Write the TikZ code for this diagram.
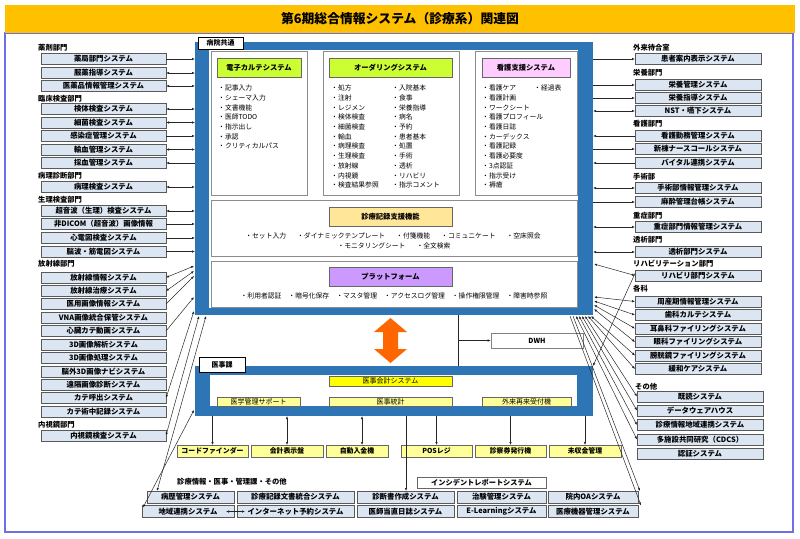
\documentclass[tikz,border=0pt]{standalone}
\usepackage{fontspec}
\setmainfont{Noto Sans CJK JP}
\usetikzlibrary{arrows.meta,calc}
\definecolor{titlebar}{RGB}{255,192,0}
\definecolor{outerc}{RGB}{110,110,230}
\definecolor{fblue}{RGB}{46,117,182}
\definecolor{sysfill}{RGB}{220,230,242}
\definecolor{limeh}{RGB}{204,255,51}
\definecolor{pinkh}{RGB}{255,204,255}
\definecolor{orangeh}{RGB}{255,230,153}
\definecolor{purpleh}{RGB}{204,153,255}
\definecolor{yel}{RGB}{255,255,0}
\definecolor{lyel}{RGB}{255,255,153}
\definecolor{arrorange}{RGB}{255,102,0}
\begin{document}
\begin{tikzpicture}[x=1pt,y=-1pt,>={Latex[length=3pt,width=2.4pt]},
 sys/.style={draw=black!65,fill=sysfill,line width=0.6pt,minimum height=11pt,inner sep=0pt,outer sep=0pt,font=\bfseries\fontsize{7.4}{8}\selectfont},
 lsys/.style={sys,minimum width=125pt},
 rsys/.style={sys,minimum width=126pt},
 bsys/.style={sys,minimum height=12pt},
 lab/.style={font=\bfseries\fontsize{7.3}{8}\selectfont,anchor=west,inner sep=0pt},
 bul/.style={font=\fontsize{6.8}{7}\selectfont,anchor=west,inner sep=0pt},
 pan/.style={draw=black!45,fill=white,line width=0.8pt,anchor=north west,inner sep=0pt,outer sep=0pt},
 hdr/.style={draw=black!60,line width=0.6pt,minimum height=19pt,inner sep=0pt,font=\bfseries\fontsize{7.3}{8}\selectfont},
 mhdr/.style={draw=black!60,line width=0.5pt,inner sep=0pt,font=\fontsize{7}{8}\selectfont},
 dev/.style={draw=black!60,fill=lyel,line width=0.6pt,minimum height=12pt,inner sep=0pt,outer sep=0pt,font=\bfseries\fontsize{6.9}{8}\selectfont},
 frame/.style={fill=fblue,anchor=north west,inner sep=0pt,outer sep=0pt},
 tab/.style={draw=black,fill=white,line width=0.6pt,inner sep=0pt,font=\bfseries\fontsize{7}{8}\selectfont},
 con/.style={line width=0.5pt,black!85}]
\useasboundingbox (0,0) rectangle (800,538);
% title and outer frame
\draw[outerc,line width=1.2pt] (5,33) rectangle (793,532);
\node[fill=titlebar,minimum width=790pt,minimum height=28pt,inner sep=0pt,anchor=north west] (title) at (5,5) {};
\node[font=\bfseries\fontsize{12.8}{14}\selectfont] (titletext) at (400,19) {第6期総合情報システム（診療系）関連図};

% main frame 病院共通
\node[frame,minimum width=398pt,minimum height=273pt] (hosp) at (195,42) {};
\fill[white] (209,50) rectangle (578,308);
\node[tab,minimum width=45pt,minimum height=12pt] (hosptab) at (220.5,43) {病院共通};
\node[pan,minimum width=96pt,minimum height=144pt] (p1) at (211,51) {};
\node[pan,minimum width=136pt,minimum height=144pt] (p2) at (323,51) {};
\node[pan,minimum width=102pt,minimum height=144pt] (p3) at (475,51) {};
\node[pan,minimum width=366pt,minimum height=56pt] (p4) at (211,200) {};
\node[pan,minimum width=366pt,minimum height=46pt] (p5) at (211,261) {};
\node[hdr,fill=limeh,minimum width=84pt] (h1) at (259,67.5) {電子カルテシステム};
\node[hdr,fill=limeh,minimum width=123pt] (h2) at (390.5,67.5) {オーダリングシステム};
\node[hdr,fill=pinkh,minimum width=88pt] (h3) at (526,67.5) {看護支援システム};
\node[hdr,fill=orangeh,minimum width=123pt] (h4) at (390.5,216.5) {診療記録支援機能};
\node[hdr,fill=purpleh,minimum width=123pt] (h5) at (390.5,276.5) {プラットフォーム};
\foreach [count=\i] \t in {記事入力,シェーマ入力,文書機能,医師TODO,指示出し,承認,クリティカルパス}
  \node[bul] (ea\i) at (218,{88+9.72*(\i-1)}) {・\t};
\foreach [count=\i] \t in {処方,注射,レジメン,検体検査,細菌検査,輸血,病理検査,生理検査,放射線,内視鏡,検査結果参照}
  \node[bul] (oa\i) at (331,{88+9.72*(\i-1)}) {・\t};
\foreach [count=\i] \t in {入院基本,食事,栄養指導,病名,予約,患者基本,処置,手術,透析,リハビリ,指示コメント}
  \node[bul] (ob\i) at (392,{88+9.72*(\i-1)}) {・\t};
\foreach [count=\i] \t in {看護ケア,看護計画,ワークシート,看護プロフィール,看護日誌,カーデックス,看護記録,看護必要度,3点認証,指示受け,褥瘡}
  \node[bul] (na\i) at (482,{88+9.72*(\i-1)}) {・\t};
\node[bul] (nb1) at (534,88) {・経過表};
\node[font=\fontsize{6.8}{7}\selectfont,inner sep=0pt] (s1) at (393,236) {・セット入力\hspace{11pt}・ダイナミックテンプレート\hspace{11pt}・付箋機能\hspace{11pt}・コミュニケート\hspace{11pt}・空床照会};
\node[font=\fontsize{6.8}{7}\selectfont,inner sep=0pt] (s2) at (394,246) {・モニタリングシート\hspace{11pt}・全文検索};
\node[font=\fontsize{6.8}{7}\selectfont,inner sep=0pt] (s3) at (394,296) {・利用者認証\hspace{7pt}・暗号化保存\hspace{7pt}・マスタ管理\hspace{7pt}・アクセスログ管理\hspace{7pt}・操作権限管理\hspace{7pt}・障害時参照};

% orange double arrow
\fill[arrorange] (390.5,318) -- (407,332) -- (398,332) -- (398,349) -- (407,349) -- (390.5,363) -- (374,349) -- (383,349) -- (383,332) -- (374,332) -- cycle;

% DWH
\node[draw=black!50,fill=white,line width=0.6pt,minimum width=92pt,minimum height=15pt,inner sep=0pt,font=\bfseries\fontsize{7}{8}\selectfont] (dwh) at (537,340.5) {DWH};

% 医事課 frame
\node[frame,minimum width=398pt,minimum height=50pt] (iji) at (195,366) {};
\fill[white] (210,375) rectangle (577,406);
\node[tab,minimum width=46pt,minimum height=15pt] (ijitab) at (222,364.5) {医事課};
\node[mhdr,fill=yel,minimum width=123pt,minimum height=10pt] (m1) at (390.5,381) {医事会計システム};
\node[mhdr,fill=lyel,minimum width=83pt,minimum height=9.5pt] (m2) at (258.5,401.5) {医学管理サポート};
\node[mhdr,fill=lyel,minimum width=123pt,minimum height=9.5pt] (m3) at (390.5,401.5) {医事統計};
\node[mhdr,fill=lyel,minimum width=89pt,minimum height=9.5pt] (m4) at (526.5,401.5) {外来再来受付機};

\coordinate (dwA) at (458,315);
\coordinate (dwB) at (458,366);
\draw[con] (dwA) -- (dwB);
\draw[con,->] (dwA |- dwh.west) -- (dwh.west);

% devices
\node[dev,minimum width=71pt] (y1) at (212.5,451) {コードファインダー};
\node[dev,minimum width=72pt] (y2) at (287,451) {会計表示盤};
\node[dev,minimum width=62pt] (y3) at (357,451) {自動入金機};
\node[dev,minimum width=71pt] (y4) at (436.5,451) {POSレジ};
\node[dev,minimum width=71pt] (y5) at (510.5,451) {診察券発行機};
\node[dev,minimum width=72pt] (y6) at (585,451) {未収金管理};

\node[lab] (botlab) at (177,482) {診療情報・医事・管理課・その他};
\node[draw=black!60,fill=white,line width=0.6pt,minimum width=129pt,minimum height=11pt,inner sep=0pt,font=\bfseries\fontsize{7.2}{8}\selectfont] (inc) at (481.5,482.5) {インシデントレポートシステム};

\node[bsys,minimum width=87pt] (b1) at (190.5,497) {病歴管理システム};
\node[bsys,minimum width=117pt] (b2) at (295.5,497) {診療記録文書統合システム};
\node[bsys,minimum width=97pt] (b3) at (405.5,497) {診断書作成システム};
\node[bsys,minimum width=89pt] (b4) at (501.5,497) {治験管理システム};
\node[bsys,minimum width=90pt] (b5) at (593,497) {院内OAシステム};
\node[bsys,minimum width=92pt] (b6) at (188,511.5) {地域連携システム};
\node[bsys,minimum width=117pt] (b7) at (295.5,511.5) {インターネット予約システム};
\node[bsys,minimum width=97pt] (b8) at (405.5,511.5) {医師当直日誌システム};
\node[bsys,minimum width=89pt] (b9) at (501.5,511.5) {E-Learningシステム};
\node[bsys,minimum width=90pt] (b10) at (593,511.5) {医療機器管理システム};
\draw[con,<->] ($(b6.east)+(-8,0)$) -- ($(b7.west)+(8,0)$);

% 医事課 to devices
\draw[con,->] (y1.north |- iji.south) -- (y1.north);
\draw[con,<->] (y2.north |- iji.south) -- (y2.north);
\draw[con,<->] ($(y3.north |- iji.south)+(5,0)$) -- ($(y3.north)+(5,0)$);
\draw[con,->] (406,416) -- (b3.north -| 406,0);
\draw[con,->] (y4.north |- iji.south) -- (y4.north);
\draw[con,->] (y5.north |- iji.south) -- (y5.north);
\draw[con,->] (y6.north |- iji.south) -- (y6.north);

% left column
\node[lab] (lg1) at (38,48) {薬剤部門};
\node[lsys] (L1) at (103.5,59) {薬局部門システム};
\node[lsys] (L2) at (103.5,73) {服薬指導システム};
\node[lsys] (L3) at (103.5,86) {医薬品情報管理システム};
\node[lab] (lg2) at (38,99) {臨床検査部門};
\node[lsys] (L4) at (103.5,109) {検体検査システム};
\node[lsys] (L5) at (103.5,122.5) {細菌検査システム};
\node[lsys] (L6) at (103.5,136) {感染症管理システム};
\node[lsys] (L7) at (103.5,149.5) {輸血管理システム};
\node[lsys] (L8) at (103.5,163) {採血管理システム};
\node[lab] (lg3) at (38,176) {病理診断部門};
\node[lsys] (L9) at (103.5,187) {病理検査システム};
\node[lab] (lg4) at (38,200) {生理検査部門};
\node[lsys] (L10) at (103.5,211) {超音波（生理）検査システム};
\node[lsys] (L11) at (103.5,224) {非DICOM（超音波）画像情報};
\node[lsys] (L12) at (103.5,238) {心電図検査システム};
\node[lsys] (L13) at (103.5,251.5) {脳波・筋電図システム};
\node[lab] (lg5) at (38,264) {放射線部門};
\node[lsys] (L14) at (103.5,277.5) {放射線情報システム};
\node[lsys] (L15) at (103.5,291) {放射線治療システム};
\node[lsys] (L16) at (103.5,304) {医用画像情報システム};
\node[lsys] (L17) at (103.5,317.5) {VNA画像統合保管システム};
\node[lsys] (L18) at (103.5,331) {心臓カテ動画システム};
\node[lsys] (L19) at (103.5,344.5) {3D画像解析システム};
\node[lsys] (L20) at (103.5,358) {3D画像処理システム};
\node[lsys] (L21) at (103.5,371.5) {脳外3D画像ナビシステム};
\node[lsys] (L22) at (103.5,385) {遠隔画像診断システム};
\node[lsys] (L23) at (103.5,398) {カテ呼出システム};
\node[lsys] (L24) at (103.5,411.5) {カテ術中記録システム};
\node[lab] (lg6) at (38,425) {内視鏡部門};
\node[lsys] (L25) at (103.5,435.5) {内視鏡検査システム};

\draw[con,->] (L1.east) -- (L1.east -| hosp.west);
\foreach \n in {L2,L3,L4,L5,L7,L9,L10}
  \draw[con,<->] (\n.east) -- (\n.east -| hosp.west);
\foreach \n in {L6,L11,L12,L13}
  \draw[con,->] (\n.east) -- (\n.east -| hosp.west);
\draw[con,<-] (L8.east) -- (L8.east -| hosp.west);
% left fan
\coordinate (fl1) at (194,266);
\coordinate (fl2) at (194,271);
\coordinate (fl3) at (194,276);
\coordinate (fl4) at (194,297);
\coordinate (fl5) at (194,311);
\coordinate (fl6) at (199,316);
\coordinate (fl7) at (206,316);
\coordinate (fl8) at (194,410);
\draw[con,<->] (L14.east) -- (fl1);
\draw[con,<->] (L15.east) -- (fl2);
\draw[con,->] (L16.east) -- (fl3);
\draw[con,->] (L18.east) -- (fl4);
\draw[con,<->] (L23.east) -- (fl5);
\draw[con,<->] (L25.east) -- (fl6);
\draw[con,<->] ($(b1.north west)+(10,0)$) -- (fl7);
\draw[con,<->] ($(b6.north west)+(1,2)$) -- (fl8);

% right column
\node[lab] (rg1) at (633,48) {外来待合室};
\node[rsys] (R1) at (698,59) {患者案内表示システム};
\node[lab] (rg2) at (633,73) {栄養部門};
\node[rsys] (R2) at (698,85) {栄養管理システム};
\node[rsys] (R3) at (698,98) {栄養指導システム};
\node[rsys] (R4) at (698,111) {NST・嚥下システム};
\node[lab] (rg3) at (633,124) {看護部門};
\node[rsys] (R5) at (698,136) {看護勤務管理システム};
\node[rsys] (R6) at (698,149) {新棟ナースコールシステム};
\node[rsys] (R7) at (698,163) {バイタル連携システム};
\node[lab] (rg4) at (633,177) {手術部};
\node[rsys] (R8) at (698,188) {手術部情報管理システム};
\node[rsys] (R9) at (698,202) {麻酔管理台帳システム};
\node[lab] (rg5) at (633,216) {重症部門};
\node[rsys] (R10) at (698,227) {重症部門情報管理システム};
\node[lab] (rg6) at (633,240) {透析部門};
\node[rsys] (R11) at (698,252) {透析部門システム};
\node[lab] (rg7) at (633,264) {リハビリテーション部門};
\node[rsys] (R12) at (698,275.5) {リハビリ部門システム};
\node[lab] (rg8) at (633,289) {各科};
\node[rsys] (R13) at (698,301.5) {周産期情報管理システム};
\node[rsys] (R14) at (698,315) {歯科カルテシステム};
\node[rsys] (R15) at (698,328.5) {耳鼻科ファイリングシステム};
\node[rsys] (R16) at (698,342) {眼科ファイリングシステム};
\node[rsys] (R17) at (698,355.5) {膀胱鏡ファイリングシステム};
\node[rsys] (R18) at (698,369) {緩和ケアシステム};
\node[lab] (rg9) at (635,387) {その他};
\node[rsys] (R19) at (700,396.5) {既読システム};
\node[rsys] (R20) at (700,410.5) {データウェアハウス};
\node[rsys] (R21) at (700,425) {診療情報地域連携システム};
\node[rsys] (R22) at (700,439.5) {多施設共同研究（CDCS）};
\node[rsys] (R23) at (700,453.5) {認証システム};

\foreach \n in {R1,R2,R3,R6,R9}
  \draw[con,->] (\n.west -| hosp.east) -- (\n.west);
\foreach \n in {R4,R8,R10,R11}
  \draw[con,<->] (\n.west -| hosp.east) -- (\n.west);
\foreach \n in {R5,R7}
  \draw[con,<-] (\n.west -| hosp.east) -- (\n.west);
% right fan
\coordinate (fr0) at (594,264);
\coordinate (fr1) at (594,297);
\coordinate (fr2) at (594,301);
\coordinate (fr3) at (594,305);
\coordinate (fr4) at (594,309);
\coordinate (fr5) at (591,316);
\coordinate (fr6) at (588,316);
\coordinate (fr7) at (585,316);
\coordinate (fr8) at (582,316);
\coordinate (fr9) at (579,316);
\coordinate (fr10) at (576,316);
\coordinate (fr11) at (573,316);
\coordinate (fr12) at (570,316);
\draw[con,<->] (fr0) -- (R12.west);
\draw[con,<->] (fr1) -- (R13.west);
\draw[con,<->] (fr2) -- (R14.west);
\draw[con,<->] (fr3) -- (R15.west);
\draw[con,<->] (fr4) -- (R16.west);
\draw[con,<->] (fr5) -- (R17.west);
\draw[con,<->] (fr6) -- (R18.west);
\draw[con,<->] (fr7) -- (R19.west);
\draw[con,<->] (fr8) -- (R20.west);
\draw[con,<->] (fr9) -- (R21.west);
\draw[con,<->] (fr10) -- (R22.west);
\draw[con,->] (fr11) -- ($(b5.north east)+(2,0)$);
\draw[con,->] (fr12) -- ($(b10.north east)+(3,0)$);
\draw[con,->] ($(R12.west)+(0,-2)$) -- (iji.north east);
\end{tikzpicture}
\end{document}
